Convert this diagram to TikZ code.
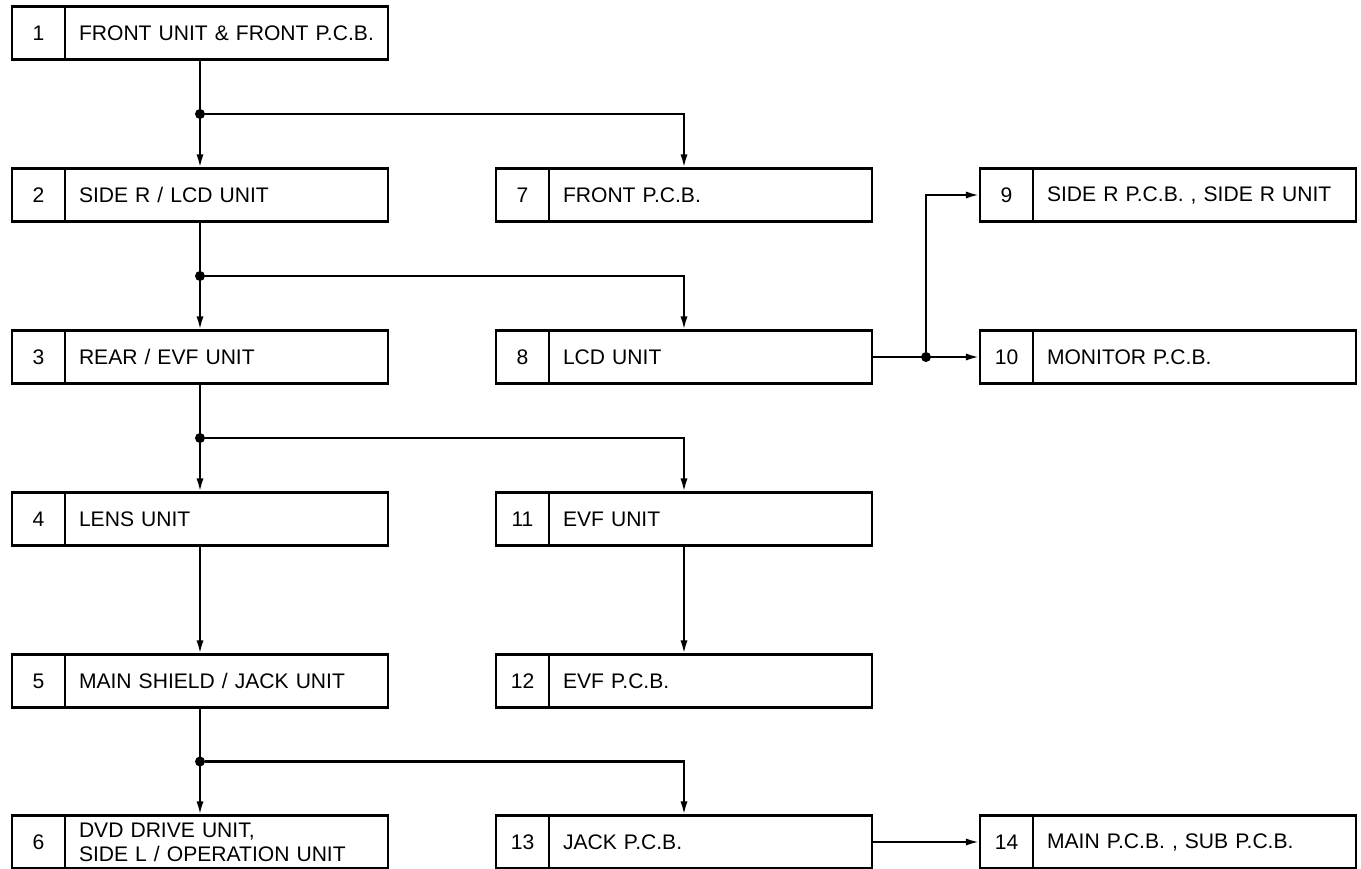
\documentclass[tikz,border=0pt]{standalone}
\usepackage{fontspec}
\setmainfont{Liberation Sans}
\usepackage{tikz}
\usetikzlibrary{arrows.meta, positioning, calc}
\tikzset{
  numcell/.style={draw, line width=1.4pt, minimum width=1.06cm, minimum height=1.06cm,
                  inner sep=0pt, outer sep=0pt},
  namecell/.style={draw, line width=1.4pt, minimum width=6.46cm, minimum height=1.06cm,
                   text width=5.9cm, inner xsep=0.28cm, inner ysep=0pt, outer sep=0pt, align=left},
  dot/.style={circle, fill=black, inner sep=0pt, minimum size=0.2cm},
  arr/.style={-{Latex[length=8pt, width=4pt]}, line width=1.4pt, black},
}

\begin{document}
\begin{tikzpicture}[every node/.style={font=\fontsize{12}{13.5}\selectfont}]
  \useasboundingbox (0,0) rectangle (27.22,-17.38);
  % first column
  \node[numcell] (n1) at (0.77,-0.66) {1};
  \node[namecell, right=0pt of n1] (b1) {FRONT UNIT \& FRONT P.C.B.};
  \node[numcell] (n2) at (0.77,-3.90) {2};
  \node[namecell, right=0pt of n2] (b2) {SIDE R / LCD UNIT};
  \node[numcell] (n3) at (0.77,-7.14) {3};
  \node[namecell, right=0pt of n3] (b3) {REAR / EVF UNIT};
  \node[numcell] (n4) at (0.77,-10.38) {4};
  \node[namecell, right=0pt of n4] (b4) {LENS UNIT};
  \node[numcell] (n5) at (0.77,-13.62) {5};
  \node[namecell, right=0pt of n5] (b5) {MAIN SHIELD / JACK UNIT};
  \node[numcell] (n6) at (0.77,-16.84) {6};
  \node[namecell, right=0pt of n6] (b6) {DVD DRIVE UNIT,\\SIDE L / OPERATION UNIT};
  % second column
  \node[numcell] (n7) at (10.45,-3.90) {7};
  \node[namecell, right=0pt of n7] (b7) {FRONT P.C.B.};
  \node[numcell] (n8) at (10.45,-7.14) {8};
  \node[namecell, right=0pt of n8] (b8) {LCD UNIT};
  \node[numcell] (n11) at (10.45,-10.38) {11};
  \node[namecell, right=0pt of n11] (b11) {EVF UNIT};
  \node[numcell] (n12) at (10.45,-13.62) {12};
  \node[namecell, right=0pt of n12] (b12) {EVF P.C.B.};
  \node[numcell] (n13) at (10.45,-16.84) {13};
  \node[namecell, right=0pt of n13] (b13) {JACK P.C.B.};
  % third column
  \node[numcell] (n9) at (20.13,-3.90) {9};
  \node[namecell, right=0pt of n9] (b9) {SIDE R P.C.B. , SIDE R UNIT};
  \node[numcell] (n10) at (20.13,-7.14) {10};
  \node[namecell, right=0pt of n10] (b10) {MONITOR P.C.B.};
  \node[numcell] (n14) at (20.13,-16.84) {14};
  \node[namecell, right=0pt of n14] (b14) {MAIN P.C.B. , SUB P.C.B.};

  % branch points
  \node[dot] (j1) at ($(n1.south west)!.5!(b2.north east)$) {};
  \node[dot] (j2) at ($(n2.south west)!.5!(b3.north east)$) {};
  \node[dot] (j3) at ($(n3.south west)!.5!(b4.north east)$) {};
  \node[dot] (j5) at ($(n5.south west)!.5!(b6.north east)$) {};
  \node[dot] (j8) at ($(b8.east)!.5!(n10.west)$) {};

  \draw[arr] (j1 |- n1.south) -- (j1 |- n2.north);
  \draw[arr] (j1) -| ($(n7.north west)!.5!(b7.north east)$);
  \draw[arr] (j2 |- n2.south) -- (j2 |- n3.north);
  \draw[arr] (j2) -| ($(n8.north west)!.5!(b8.north east)$);
  \draw[arr] (j3 |- n3.south) -- (j3 |- n4.north);
  \draw[arr] (j3) -| ($(n11.north west)!.5!(b11.north east)$);
  \draw[arr] (j3 |- n4.south) -- (j3 |- n5.north);
  \draw[arr] ($(n11.south west)!.5!(b11.south east)$) -- ($(n12.north west)!.5!(b12.north east)$);
  \draw[arr] (j5 |- n5.south) -- (j5 |- n6.north);
  \draw[arr] (j5) -| ($(n13.north west)!.5!(b13.north east)$);
  \draw[arr] (b8.east) -- (n10.west);
  \draw[arr] (j8) |- (n9.west);
  \draw[arr] (b13.east) -- (n14.west);
\end{tikzpicture}
\end{document}
